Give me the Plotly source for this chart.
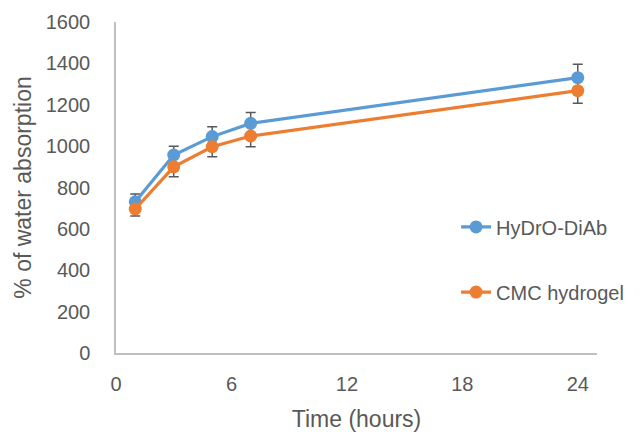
import plotly.graph_objects as go

time_h = [1, 3, 5, 7, 24]
hydro_diab = [731, 957, 1046, 1110, 1331]
hydro_diab_err = [38, 43, 48, 52, 65]
cmc_hydrogel = [696, 900, 997, 1049, 1268]
cmc_hydrogel_err = [34, 48, 48, 52, 61]
x_ticks = [0, 6, 12, 18, 24]
y_ticks = [0, 200, 400, 600, 800, 1000, 1200, 1400, 1600]

BLUE = "#5B9BD5"
ORANGE = "#ED7D31"
GREY_TXT = "#595959"
FONT = "Liberation Sans"

fig = go.Figure()

# error bars drawn beneath all lines/markers
for vals, errs in [(hydro_diab, hydro_diab_err), (cmc_hydrogel, cmc_hydrogel_err)]:
    fig.add_trace(go.Scatter(
        x=time_h, y=vals, mode="markers",
        marker=dict(size=1, color="rgba(0,0,0,0)"),
        error_y=dict(type="data", array=errs, visible=True,
                     color="#595959", thickness=1.5, width=5),
        showlegend=False, hoverinfo="skip"))

fig.add_trace(go.Scatter(
    x=time_h, y=hydro_diab, mode="lines+markers", name="HyDrO-DiAb",
    line=dict(color=BLUE, width=3.2),
    marker=dict(color=BLUE, size=13),
    legend="legend"))
fig.add_trace(go.Scatter(
    x=time_h, y=cmc_hydrogel, mode="lines+markers", name="CMC hydrogel",
    line=dict(color=ORANGE, width=3.2),
    marker=dict(color=ORANGE, size=13),
    legend="legend2"))

axis_common = dict(
    showgrid=False, zeroline=False, showline=True, automargin=False,
    linecolor="#BFBFBF", linewidth=1.5, ticks="",
    tickfont=dict(family=FONT, size=20, color=GREY_TXT),
)

fig.update_layout(
    width=641, height=434,
    margin=dict(l=116, r=44, t=22, b=81, autoexpand=False),
    paper_bgcolor="white", plot_bgcolor="white",
    font=dict(family=FONT, color=GREY_TXT),
    xaxis=dict(range=[0, 25], tickvals=x_ticks, ticklabelstandoff=12,
               title=dict(text="Time (hours)", font=dict(family=FONT, size=23, color=GREY_TXT), standoff=17),
               **axis_common),
    yaxis=dict(range=[0, 1600], tickvals=y_ticks, ticklabelstandoff=20,
               title=dict(text="% of water absorption", font=dict(family=FONT, size=23, color=GREY_TXT), standoff=8),
               **axis_common),
    legend=dict(x=0.707, y=0.381, xanchor="left", yanchor="middle",
                bgcolor="rgba(0,0,0,0)", font=dict(family=FONT, size=20, color=GREY_TXT)),
    legend2=dict(x=0.707, y=0.184, xanchor="left", yanchor="middle",
                 bgcolor="rgba(0,0,0,0)", font=dict(family=FONT, size=20, color=GREY_TXT)),
    showlegend=True,
)

fig.write_html("out.html", config={"displayModeBar": False},
               post_script="document.body.style.margin='0';document.body.style.padding='0';")
